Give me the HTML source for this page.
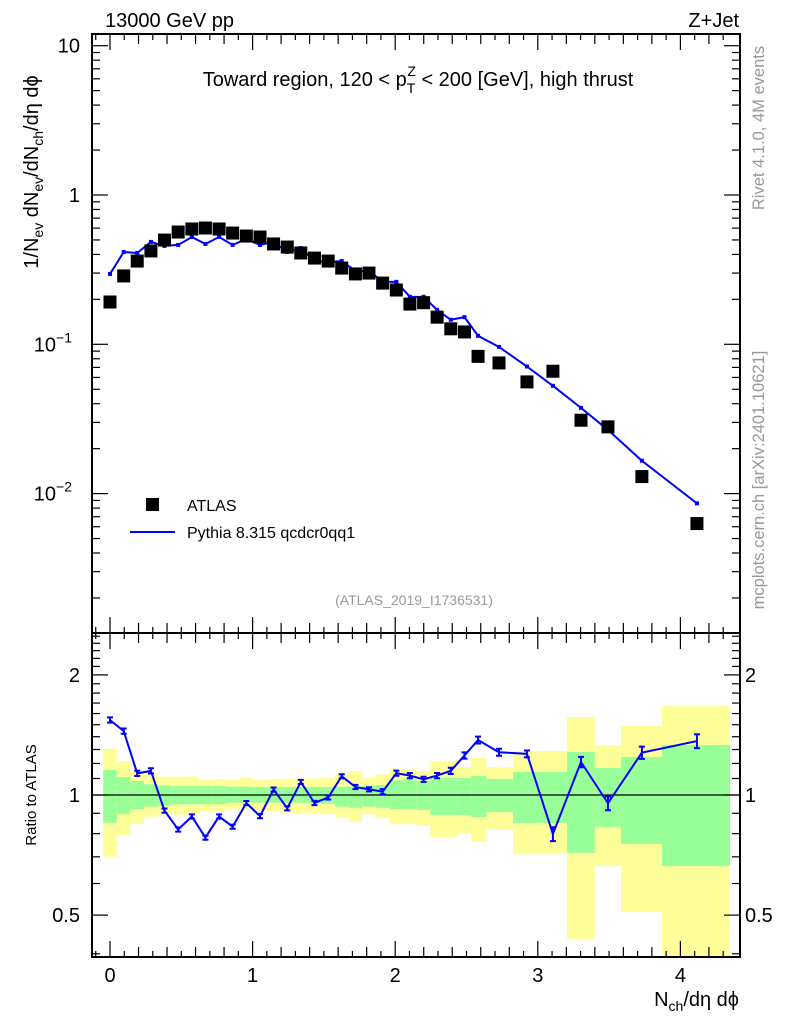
<!DOCTYPE html>
<html><head><meta charset="utf-8"><style>
html,body{margin:0;padding:0;background:#fff;}
svg{display:block;font-family:"Liberation Sans",sans-serif;}
</style></head><body>
<svg id="chart" width="786" height="1024" viewBox="0 0 786 1024" xmlns="http://www.w3.org/2000/svg">
<g id="bands"></g>
<g id="grid"></g>
<g id="marks"></g>
<text x="105" y="27" font-size="20">13000 GeV pp</text>
<text x="739" y="27" font-size="20" text-anchor="end">Z+Jet</text>
<text x="418" y="86" font-size="20" text-anchor="middle">Toward region, 120 &lt; p<tspan font-size="14" dy="7">T</tspan><tspan font-size="14" dx="-8" dy="-17">Z</tspan><tspan dy="10"> &lt; 200 [GeV], high thrust</tspan></text>
<text transform="translate(38,172) rotate(-90)" font-size="20" text-anchor="middle">1/N<tspan font-size="14" dy="5">ev</tspan><tspan dy="-5"> dN</tspan><tspan font-size="14" dy="5">ev</tspan><tspan dy="-5">/dN</tspan><tspan font-size="14" dy="5">ch</tspan><tspan dy="-5">/dη dϕ</tspan></text>
<text transform="translate(36,795) rotate(-90)" font-size="15" text-anchor="middle">Ratio to ATLAS</text>
<text x="739" y="1006" font-size="20" text-anchor="end">N<tspan font-size="14" dy="5">ch</tspan><tspan dy="-5">/dη dϕ</tspan></text>
<text transform="translate(764,128) rotate(-90)" font-size="16.5" fill="#999" text-anchor="middle">Rivet 4.1.0,  4M events</text>
<text transform="translate(764,480) rotate(-90)" font-size="16.5" fill="#999" text-anchor="middle">mcplots.cern.ch [arXiv:2401.10621]</text>
<text x="414" y="605" font-size="14" fill="#999" text-anchor="middle">(ATLAS_2019_I1736531)</text>
<g>
<rect x="146" y="498" width="13" height="13" fill="#000"></rect>
<text x="187" y="511" font-size="16">ATLAS</text>
<line x1="130" y1="532" x2="175" y2="532" stroke="#00f" stroke-width="2"></line>
<text x="187" y="538" font-size="16">Pythia 8.315 qcdcr0qq1</text>
</g>
</svg>
<script>
const centers=[0,0.096,0.191,0.287,0.382,0.478,0.574,0.669,0.765,0.860,0.956,1.052,1.147,1.243,1.338,1.434,1.530,1.625,1.721,1.816,1.912,2.008,2.103,2.199,2.294,2.390,2.486,2.581,2.728,2.924,3.106,3.303,3.492,3.730,4.116];
const edges=[-0.048,0.048,0.143,0.239,0.335,0.430,0.526,0.621,0.717,0.813,0.908,1.004,1.099,1.195,1.291,1.386,1.482,1.577,1.673,1.769,1.864,1.960,2.055,2.151,2.247,2.342,2.438,2.533,2.640,2.826,3.016,3.205,3.400,3.583,3.871,4.348];
const atlas=[0.192,0.287,0.361,0.422,0.499,0.565,0.592,0.601,0.592,0.556,0.531,0.523,0.470,0.448,0.409,0.378,0.361,0.324,0.296,0.300,0.257,0.231,0.186,0.190,0.152,0.127,0.121,0.083,0.075,0.056,0.066,0.031,0.028,0.013,0.0063];
const pythia=[0.296,0.415,0.409,0.485,0.456,0.463,0.523,0.470,0.523,0.463,0.507,0.463,0.485,0.415,0.441,0.361,0.356,0.361,0.310,0.310,0.262,0.262,0.208,0.208,0.170,0.146,0.152,0.114,0.096,0.071,0.0527,0.0375,0.0267,0.0166,0.0086];
const pythiaRelErr=[0.015,0.015,0.015,0.015,0.012,0.012,0.012,0.012,0.012,0.012,0.012,0.012,0.012,0.012,0.012,0.012,0.012,0.012,0.012,0.012,0.015,0.015,0.015,0.015,0.015,0.018,0.018,0.02,0.02,0.02,0.04,0.03,0.04,0.035,0.04];
const yelHi=[1.306,1.217,1.142,1.127,1.111,1.111,1.111,1.090,1.095,1.090,1.105,1.090,1.095,1.099,1.099,1.099,1.105,1.127,1.149,1.105,1.127,1.164,1.160,1.149,1.216,1.216,1.175,1.238,1.175,1.289,1.289,1.568,1.334,1.489,1.670];
const yelLo=[0.700,0.794,0.847,0.881,0.893,0.893,0.893,0.910,0.906,0.921,0.921,0.915,0.910,0.903,0.900,0.900,0.895,0.877,0.857,0.895,0.877,0.845,0.845,0.836,0.785,0.785,0.803,0.762,0.817,0.711,0.711,0.436,0.664,0.509,0.300];
const grnHi=[1.155,1.109,1.084,1.064,1.057,1.053,1.053,1.053,1.053,1.049,1.049,1.047,1.047,1.047,1.047,1.047,1.047,1.049,1.049,1.053,1.059,1.088,1.095,1.084,1.103,1.103,1.103,1.116,1.097,1.142,1.142,1.282,1.169,1.245,1.334];
const grnLo=[0.852,0.895,0.921,0.935,0.939,0.948,0.948,0.948,0.948,0.957,0.957,0.957,0.957,0.957,0.957,0.955,0.950,0.935,0.929,0.935,0.929,0.921,0.921,0.917,0.891,0.891,0.891,0.881,0.906,0.851,0.851,0.716,0.832,0.754,0.664];
const xTicks=[0,1,2,3,4];
const ratioTickVals=[0.5,1,2];
const ratioTickLabels=["0.5","1","2"];

const NS="http://www.w3.org/2000/svg";
const L=92,R=740,MT=34,MB=633,RT=633,RB=957;
const X=n=>110+142.6*n;
const YM=v=>195-149.3*Math.log10(v);
const YR=r=>795-399*Math.log10(r);
function mk(tag,attrs,parent){const e=document.createElementNS(NS,tag);for(const k in attrs)e.setAttribute(k,attrs[k]);parent.appendChild(e);return e;}
const grid=document.getElementById('grid'),marks=document.getElementById('marks'),bands=document.getElementById('bands');

for(let i=0;i<centers.length;i++){
  const x0=X(edges[i]),x1=X(edges[i+1]);
  const yt=Math.max(RT,YR(yelHi[i])),yb=Math.min(RB,YR(yelLo[i]));
  const r1=mk('rect',{x:x0,y:yt,width:x1-x0,height:yb-yt,fill:'#ffff99'},bands);
  
  
  const gt=Math.max(RT,YR(grnHi[i])),gb=Math.min(RB,YR(grnLo[i]));
  const r2=mk('rect',{x:x0,y:gt,width:x1-x0,height:gb-gt,fill:'#99ff99'},bands);
  
  
}
for(const [t,b] of [[MT,MB],[RT,RB]]){
  const f=mk('rect',{x:L,y:t,width:R-L,height:b-t,fill:'none',stroke:'#000','stroke-width':2},grid);
  
  
}
mk('line',{x1:L,x2:R,y1:YR(1),y2:YR(1),stroke:'#000','stroke-width':1.2},grid);
for(let k=-1;k<=43;k++){
  const n=k/10,x=X(n);if(x<L||x>R)continue;
  const major=k%10===0,len=major?16:(k%2===0?10:6);
  for(const [t,b] of [[MT,MB],[RT,RB]]){
    mk('line',{x1:x,x2:x,y1:b,y2:b-len,stroke:'#000','stroke-width':1.2},grid);
    mk('line',{x1:x,x2:x,y1:t,y2:t+len,stroke:'#000','stroke-width':1.2},grid);
  }
}
xTicks.forEach(v=>{const t=mk('text',{x:X(v),y:982,'font-size':20,'text-anchor':'middle'},grid);t.textContent=v;

});
for(let d=-3;d<=1;d++)for(let m=1;m<=9;m++){
  const y=YM(m*Math.pow(10,d));if(y<MT||y>MB)continue;
  const len=m===1?16:8;
  mk('line',{x1:L,x2:L+len,y1:y,y2:y,stroke:'#000','stroke-width':1.2},grid);
  mk('line',{x1:R,x2:R-len,y1:y,y2:y,stroke:'#000','stroke-width':1.2},grid);
}
[[1,"10",""],[0,"1",""],[-1,"10","−1"],[-2,"10","−2"]].forEach(([d,b,e])=>{
  const t=mk('text',{x:e?72:80,y:YM(Math.pow(10,d))+7,'font-size':20,'text-anchor':'end'},grid);
  t.textContent=b;
  
  
  if(e){const s=mk('tspan',{'font-size':14,dy:-9},t);s.textContent=e;}
});
for(let i=3;i<=25;i++){
  const r=i/10,y=YR(r);if(y<RT||y>RB)continue;
  const len=(r===0.5||r===1||r===2)?16:8;
  mk('line',{x1:L,x2:L+len,y1:y,y2:y,stroke:'#000','stroke-width':1.2},grid);
  mk('line',{x1:R,x2:R-len,y1:y,y2:y,stroke:'#000','stroke-width':1.2},grid);
}
ratioTickVals.forEach((v,i)=>{
  const a=mk('text',{x:80,y:YR(v)+7,'font-size':20,'text-anchor':'end'},grid);a.textContent=ratioTickLabels[i];
  
  
  const b=mk('text',{x:745,y:YR(v)+7,'font-size':20},grid);b.textContent=ratioTickLabels[i];
  
  
});
let pts=centers.map((c,i)=>X(c)+','+YM(pythia[i])).join(' ');
const pl=mk('polyline',{points:pts,fill:'none',stroke:'#00f','stroke-width':2},marks);


centers.forEach((c,i)=>{
  const d=mk('rect',{x:X(c)-2,y:YM(pythia[i])-2,width:4,height:4,fill:'#00f'},marks);
  
  
});
centers.forEach((c,i)=>{
  const s=mk('rect',{x:X(c)-6.5,y:YM(atlas[i])-6.5,width:13,height:13,fill:'#000'},marks);
  
  
});
const ratio=pythia.map((p,i)=>p/atlas[i]);
pts=centers.map((c,i)=>X(c)+','+YR(ratio[i])).join(' ');
const rl=mk('polyline',{points:pts,fill:'none',stroke:'#00f','stroke-width':2},marks);


centers.forEach((c,i)=>{
  const x=X(c),y1=YR(ratio[i]*(1+pythiaRelErr[i])),y2=YR(ratio[i]*(1-pythiaRelErr[i]));
  const g=mk('path',{d:`M${x},${y1}V${y2}M${x-3},${y1}H${x+3}M${x-3},${y2}H${x+3}`,stroke:'#00f','stroke-width':2,fill:'none'},marks);
  
  
});
</script>
</body></html>
